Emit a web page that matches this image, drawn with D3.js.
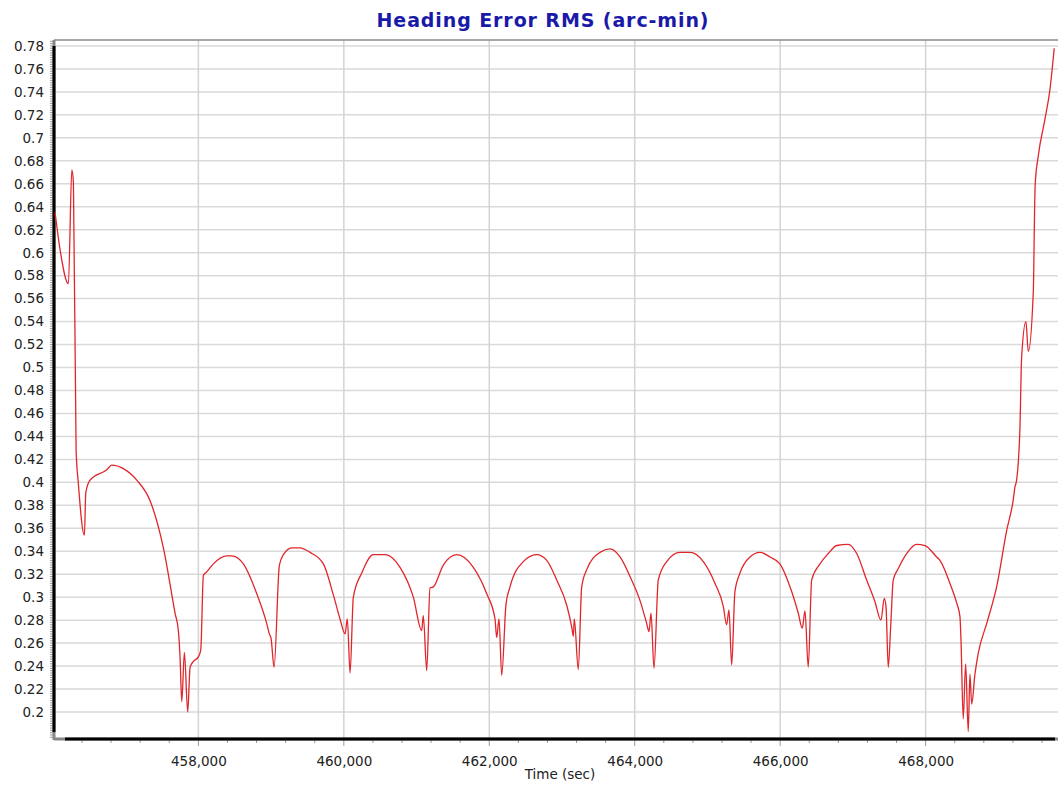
<!DOCTYPE html>
<html>
<head>
<meta charset="utf-8">
<script src="https://cdn.jsdelivr.net/npm/d3@7"></script>
<style>
  body { margin: 0; background: #fff; }
  text { font-family: "DejaVu Sans", Verdana, sans-serif; }
</style>
</head>
<body>
<div class="canvas"></div>
<script>
// time (sec) of each sample
const times = [
  456030, 456100, 456213, 456260, 456282, 456319, 456350, 456433, 456452, 456511,
  456741, 456809, 456969, 457153, 457336, 457519, 457680, 457725, 457748, 457772,
  457808, 457854, 457886, 457931, 458000, 458033, 458069, 458115, 458206, 458390,
  458459, 458619, 458803, 458940, 458976, 459000, 459041, 459114, 459169, 459284,
  459398, 459536, 459719, 459856, 459948, 460017, 460048, 460086, 460131, 460246,
  460406, 460567, 460773, 460956, 461071, 461093, 461140, 461185, 461231, 461368,
  461553, 461781, 461965, 462079, 462102, 462134, 462171, 462230, 462285, 462468,
  462652, 462790, 462927, 463065, 463134, 463156, 463169, 463224, 463271, 463340,
  463523, 463660, 463798, 463935, 464073, 464165, 464196, 464224, 464265, 464324,
  464440, 464622, 464760, 464943, 465104, 465218, 465264, 465296, 465333, 465378,
  465447, 465585, 465722, 465860, 465997, 466135, 466249, 466304, 466341, 466386,
  466433, 466547, 466661, 466777, 466936, 467052, 467189, 467303, 467386, 467431,
  467455, 467486, 467519, 467555, 467624, 467739, 467876, 467991, 468151, 468197,
  468334, 468427, 468472, 468486, 468517, 468550, 468586, 468609, 468633, 468678,
  468723, 468839, 468976, 469114, 469205, 469228, 469251, 469297, 469320, 469379,
  469411, 469480, 469500, 469506, 469548, 469640, 469709, 469768
];

// heading error RMS (arc-min)
const rms = [
  0.635, 0.602, 0.573, 0.672, 0.661, 0.428, 0.399, 0.354, 0.391, 0.402,
  0.411, 0.415, 0.412, 0.402, 0.384, 0.343, 0.286, 0.271, 0.248, 0.209,
  0.252, 0.200, 0.239, 0.244, 0.248, 0.254, 0.319, 0.322, 0.329, 0.336,
  0.336, 0.329, 0.303, 0.277, 0.268, 0.264, 0.239, 0.328, 0.337, 0.343,
  0.343, 0.339, 0.329, 0.302, 0.281, 0.268, 0.281, 0.234, 0.300, 0.321,
  0.337, 0.337, 0.326, 0.300, 0.271, 0.284, 0.236, 0.308, 0.309, 0.328,
  0.337, 0.326, 0.303, 0.281, 0.265, 0.281, 0.232, 0.294, 0.309, 0.331,
  0.337, 0.332, 0.315, 0.293, 0.274, 0.266, 0.281, 0.237, 0.309, 0.324,
  0.339, 0.342, 0.335, 0.318, 0.297, 0.277, 0.270, 0.286, 0.238, 0.315,
  0.331, 0.339, 0.339, 0.331, 0.312, 0.292, 0.276, 0.289, 0.241, 0.305,
  0.321, 0.335, 0.339, 0.335, 0.329, 0.309, 0.286, 0.273, 0.288, 0.239,
  0.315, 0.329, 0.338, 0.345, 0.346, 0.338, 0.315, 0.296, 0.280, 0.299,
  0.292, 0.239, 0.274, 0.315, 0.325, 0.338, 0.346, 0.345, 0.335, 0.332,
  0.312, 0.295, 0.283, 0.263, 0.194, 0.242, 0.183, 0.233, 0.207, 0.233,
  0.251, 0.277, 0.309, 0.358, 0.385, 0.396, 0.402, 0.448, 0.509, 0.540,
  0.514, 0.565, 0.643, 0.659, 0.684, 0.716, 0.742, 0.778
];

const xTicks = [458000, 460000, 462000, 464000, 466000, 468000];
const yTicks = d3.range(0.2, 0.7801, 0.02).map(v => +v.toFixed(2));

const data = times.map((t, i) => ({ t: t, v: rms[i] }));

const width = 1060, height = 789;
const plotL = 54, plotT = 40, plotR = 1058, plotB = 739;

const svg = d3.select(".canvas").append("svg")
  .attr("width", width).attr("height", height);

const x = d3.scaleLinear().domain([456015, 469820]).range([plotL, plotR]);
const y = d3.scaleLinear().domain([0.1765, 0.7852]).range([plotB, plotT]);

// title
svg.append("text")
  .attr("x", 543).attr("y", 27)
  .attr("text-anchor", "middle")
  .attr("font-size", 19).attr("font-weight", "bold")
  .attr("letter-spacing", 0.9)
  .attr("fill", "#1a1aa8")
  .text("Heading Error RMS (arc-min)");

// grid
svg.append("g").selectAll("line").data(yTicks).join("line")
  .attr("x1", plotL).attr("x2", plotR)
  .attr("y1", d => y(d)).attr("y2", d => y(d))
  .attr("stroke", "#d9d9d9").attr("stroke-width", 1.5);

svg.append("g").selectAll("line").data(xTicks).join("line")
  .attr("x1", d => x(d)).attr("x2", d => x(d))
  .attr("y1", plotT).attr("y2", plotB)
  .attr("stroke", "#d4d4d4").attr("stroke-width", 1.5);

// top frame line
svg.append("line")
  .attr("x1", plotL).attr("x2", plotR).attr("y1", plotT).attr("y2", plotT)
  .attr("stroke", "#8a8a8a").attr("stroke-width", 1.5);

// y axis
const yAxis = d3.axisLeft(y).tickValues(yTicks).tickSize(0).tickPadding(10)
  .tickFormat(d3.format("~g"));
const gy = svg.append("g").attr("transform", `translate(${plotL},0)`).call(yAxis);
gy.select(".domain").remove();
gy.selectAll("text").attr("font-size", 13.5).attr("fill", "#222")
  .attr("font-family", "DejaVu Sans, Verdana, sans-serif");

// y minor ticks
const yMinor = d3.range(0.178, 0.785, 0.002);
svg.append("g").selectAll("line").data(yMinor).join("line")
  .attr("x1", plotL - 4).attr("x2", plotL)
  .attr("y1", d => y(d)).attr("y2", d => y(d))
  .attr("stroke", "#999").attr("stroke-width", 1);

// x axis
const xAxis = d3.axisBottom(x).tickValues(xTicks).tickSize(0).tickPadding(17)
  .tickFormat(d3.format(","));
const gx = svg.append("g").attr("transform", `translate(0,${plotB})`).call(xAxis);
gx.select(".domain").remove();
gx.selectAll("text").attr("font-size", 13.5).attr("fill", "#222")
  .attr("font-family", "DejaVu Sans, Verdana, sans-serif");

const xMinor = d3.range(456400, 469800, 400);
svg.append("g").selectAll("line").data(xMinor).join("line")
  .attr("x1", d => x(d)).attr("x2", d => x(d))
  .attr("y1", plotB).attr("y2", d => plotB + (d % 2000 === 0 ? 7 : 4))
  .attr("stroke", "#999").attr("stroke-width", 1);

// axis lines
svg.append("line").attr("x1", plotL).attr("x2", plotL).attr("y1", plotT).attr("y2", plotB + 1)
  .attr("stroke", "#888").attr("stroke-width", 3);
svg.append("line").attr("x1", plotL).attr("x2", plotL).attr("y1", y(0.78)).attr("y2", plotB - 7)
  .attr("stroke", "#000").attr("stroke-width", 3);
svg.append("line").attr("x1", plotL).attr("x2", plotR).attr("y1", plotB).attr("y2", plotB)
  .attr("stroke", "#888").attr("stroke-width", 3);
svg.append("line").attr("x1", plotL + 11).attr("x2", plotR - 3).attr("y1", plotB).attr("y2", plotB)
  .attr("stroke", "#000").attr("stroke-width", 3);

svg.append("text")
  .attr("x", 560).attr("y", 779)
  .attr("text-anchor", "middle")
  .attr("font-size", 13.5).attr("fill", "#222")
  .text("Time (sec)");

// series
const line = d3.line().curve(d3.curveMonotoneX).x(d => x(d.t)).y(d => y(d.v));
svg.append("path")
  .datum(data)
  .attr("d", line)
  .attr("fill", "none")
  .attr("stroke", "#e0262b")
  .attr("stroke-width", 1.3)
  .attr("stroke-linejoin", "round");
</script>
</body>
</html>
